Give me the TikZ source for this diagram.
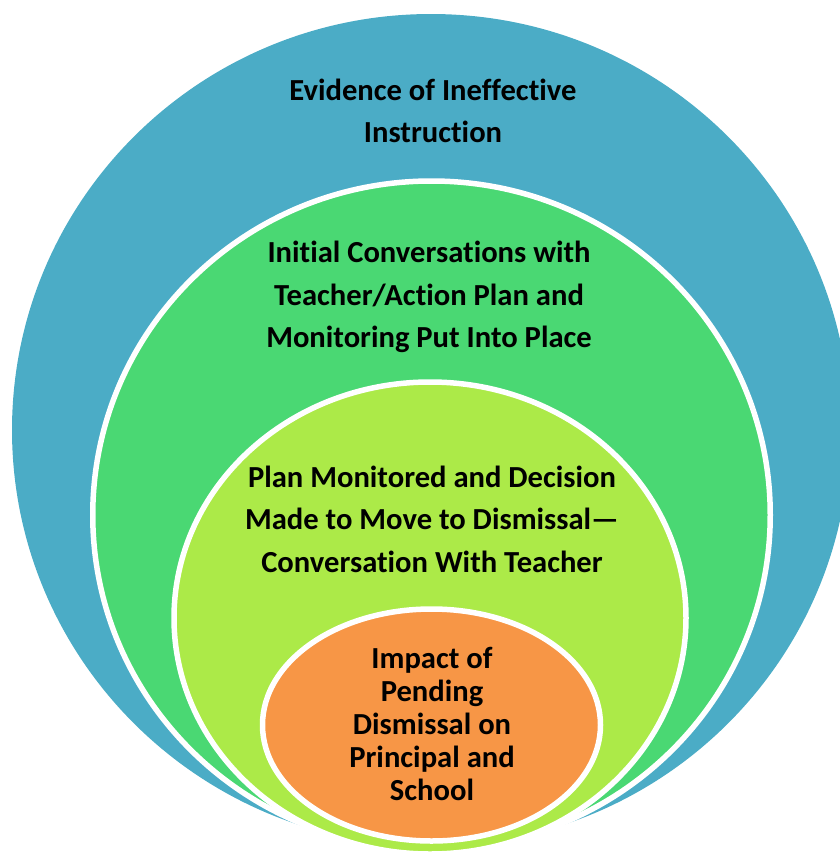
\documentclass[tikz,border=0pt]{standalone}
\usepackage{fontspec}
\setmainfont[Ligatures=NoCommon]{Carlito}
\definecolor{ringblue}{HTML}{4BACC6}
\definecolor{ringgreen}{HTML}{4AD873}
\definecolor{ringlime}{HTML}{ACEA48}
\definecolor{ringorange}{HTML}{F79646}
\begin{document}
\begin{tikzpicture}[x=1pt,y=-1pt,
    ring/.style={draw=white,line width=5.5pt},
    label/.style={align=center,text=black,inner sep=0pt,
      font=\bfseries\fontsize{30.6}{42.5}\selectfont},
    smalllabel/.style={label,font=\bfseries\fontsize{30.6}{33}\selectfont}]
  \useasboundingbox (0,0) rectangle (840,852);
  \clip (0,0) rectangle (840,852);
  % nested rings, outermost first
  \fill[ringblue] (431,430) ellipse [x radius=419pt, y radius=416pt];
  \filldraw[ring,fill=ringgreen] (431.5,515) ellipse [x radius=338.75pt, y radius=334pt];
  \filldraw[ring,fill=ringlime] (430,618) ellipse [x radius=256pt, y radius=236pt];
  \filldraw[ring,fill=ringorange] (431.5,725) ellipse [x radius=169pt, y radius=116pt];
  % ring captions
  \node[label] (evidence) at (433,111) {Evidence of Ineffective\\Instruction};
  \node[label] (initial) at (429,297) {Initial Conversations with\\Teacher/Action Plan and\\Monitoring Put Into Place};
  \node[label] (decision) at (432,519) {Plan Monitored and Decision\\Made to Move to Dismissal—\\Conversation With Teacher};
  \node[smalllabel] (impact) at (432,724) {Impact of\\Pending\\Dismissal on\\Principal and\\School};
\end{tikzpicture}
\end{document}
